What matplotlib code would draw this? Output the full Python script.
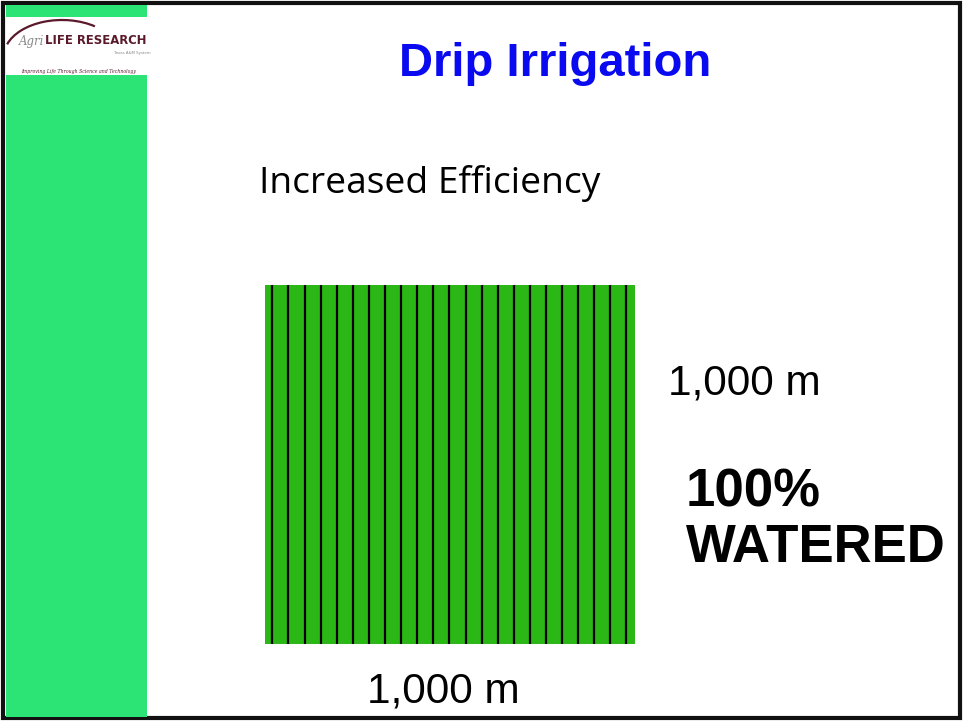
import numpy as np
import matplotlib.pyplot as plt
from matplotlib.patches import Rectangle, Arc

# slide content
title = 'Drip Irrigation'
subtitle = 'Increased Efficiency'
side_label = '1,000 m'
bottom_label = '1,000 m'
watered_label = '100%\nWATERED'
field_size_m = [1000, 1000]   # width, height
n_drip_lines = 23

W, H = 963, 721
fig = plt.figure(figsize=(W / 100, H / 100), dpi=100)
ax = fig.add_axes([0, 0, 1, 1])
ax.set_xlim(0, W)
ax.set_ylim(H, 0)
ax.axis('off')

# slide frame and sidebar
ax.add_patch(Rectangle((3, 3), 957, 715, facecolor='white', edgecolor='#111111', lw=3, zorder=0))
ax.add_patch(Rectangle((6, 5), 141, 712, facecolor='#2ce476', edgecolor='none', zorder=1))

# logo box
ax.add_patch(Rectangle((6, 17), 148, 58, facecolor='white', edgecolor='none', zorder=2))
ax.add_patch(Arc((62, 56), 116, 72, theta1=192, theta2=318, color='#5a1a2a', lw=1.6, zorder=3))
ax.text(44, 41, 'Agri', fontsize=8.5, style='italic', color='#8a8a8a', family='DejaVu Serif',
        ha='right', va='center', zorder=4)
ax.text(45, 41, 'LIFE RESEARCH', fontsize=8.4, fontweight='bold', color='#5a1a2a',
        family='DejaVu Sans', va='center', zorder=4)
ax.text(151, 53, 'Texas A&M System', fontsize=2.8, color='#888888', ha='right', va='center', zorder=4)
ax.text(79, 72, 'Improving Life Through Science and Technology', fontsize=3.3, style='italic',
        color='#5a1a2a', family='DejaVu Serif', ha='center', va='center', zorder=4)

# texts
ax.text(555, 64, title, fontsize=34, fontweight='bold', color='#0a0af0',
        family='Liberation Sans', ha='center', va='center')
ax.text(259, 183, subtitle, fontsize=26.7, color='black', family='Open Sans',
        ha='left', va='center')
ax.text(668, 384, side_label, fontsize=30.5, color='black', family='Liberation Sans',
        ha='left', va='center')
ax.text(443, 692, bottom_label, fontsize=30.5, color='black', family='Liberation Sans',
        ha='center', va='center')
ax.text(686, 520, watered_label, fontsize=38, fontweight='bold', color='black',
        family='Liberation Sans', ha='left', va='center', linespacing=1.15)

# field with drip lines, in metres
fx0, fy0, fx1, fy1 = 265, 285, 635, 644
fax = fig.add_axes([fx0 / W, 1 - fy1 / H, (fx1 - fx0) / W, (fy1 - fy0) / H])
fax.set_xlim(0, field_size_m[0])
fax.set_ylim(0, field_size_m[1])
fax.axis('off')
fax.add_patch(Rectangle((0, 0), field_size_m[0], field_size_m[1], facecolor='#2bb816', edgecolor='none'))
drip_x = np.linspace(20, 977, n_drip_lines)
fax.vlines(drip_x, 0, field_size_m[1], colors='black', lw=1.6)

fig.savefig('out.png', dpi=100)
